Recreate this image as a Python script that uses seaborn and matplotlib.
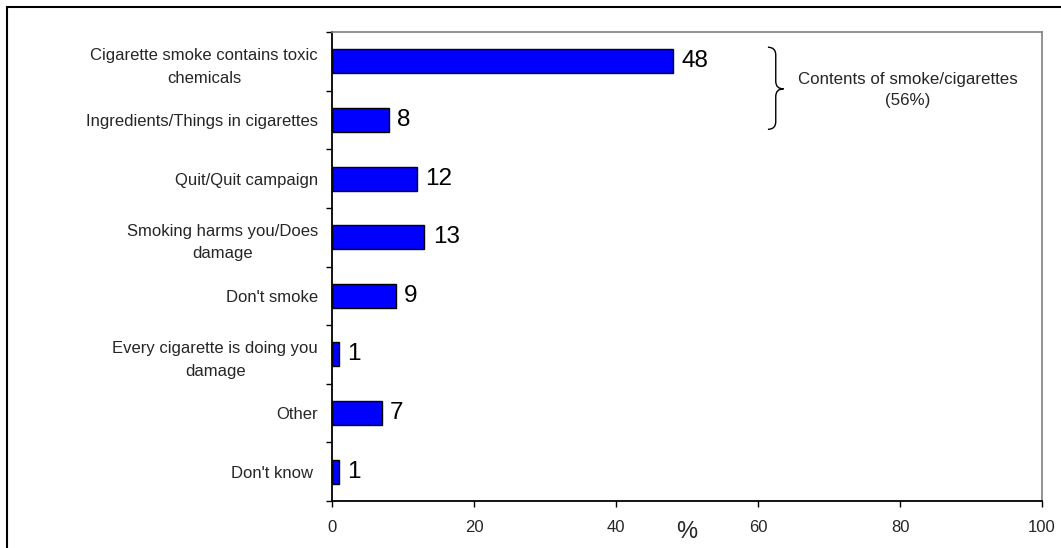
import matplotlib
matplotlib.use("Agg")
import matplotlib.pyplot as plt
import seaborn as sns
import pandas as pd
from matplotlib.path import Path
from matplotlib.patches import PathPatch, Rectangle
from matplotlib.ticker import FixedLocator

categories = [
    "Cigarette smoke contains toxic\nchemicals",
    "Ingredients/Things in cigarettes",
    "Quit/Quit campaign",
    "Smoking harms you/Does\ndamage",
    "Don't smoke",
    "Every cigarette is doing you\ndamage",
    "Other",
    "Don't know ",
]
values = [48, 8, 12, 13, 9, 1, 7, 1]
x_ticks = [0, 20, 40, 60, 80, 100]
group_label = "Contents of smoke/cigarettes\n(56%)"

sns.set_theme(style="white")
plt.rcParams["font.family"] = ["Liberation Sans", "DejaVu Sans"]

df = pd.DataFrame({"category": categories, "value": values})

fig = plt.figure(figsize=(10.61, 5.48), dpi=100)
ax = fig.add_axes([332 / 1061, 47 / 548, 710 / 1061, 469 / 548])

sns.barplot(data=df, y="category", x="value", orient="h", ax=ax,
            color="#0000FF", saturation=1, width=0.41,
            edgecolor="black", linewidth=1)

ax.set_xlim(0, 100)
ax.set_ylim(len(categories) - 0.5, -0.5)
ax.xaxis.set_major_locator(FixedLocator(x_ticks))
ax.set_xticklabels([str(t) for t in x_ticks], fontsize=12)

# y labels at centres, tick marks at category boundaries
ax.set_yticks(range(len(categories)))
ax.set_yticklabels(categories, fontsize=12, multialignment="center")
ax.yaxis.set_minor_locator(FixedLocator([i - 0.5 for i in range(len(categories) + 1)]))
ax.tick_params(axis="y", which="major", length=0, pad=10)
ax.tick_params(axis="y", which="minor", length=4, width=1, color="black", left=True)
ax.tick_params(axis="x", which="major", length=4, width=1, color="black", bottom=True, pad=10)
for lbl in ax.get_yticklabels():
    lbl.set_linespacing(1.65)

ax.set_ylabel("")
ax.set_xlabel("%", fontsize=17)
ax.xaxis.set_label_coords(0.5, -0.066)
ax.xaxis.label.set_va("center")

for s in ["left", "bottom"]:
    ax.spines[s].set_color("black")
    ax.spines[s].set_linewidth(1.3)
for s in ["top", "right"]:
    ax.spines[s].set_color("#808080")
    ax.spines[s].set_linewidth(1.2)

ax.bar_label(ax.containers[0], labels=[str(v) for v in values],
             padding=6, fontsize=17.5, color="black")

# curly brace grouping first two categories
xl, xm, xt = 61.4, 62.5, 63.6
yt, ym, yb, r = -0.24, 0.47, 1.16, 0.13
verts = [(xl, yt), (xm, yt), (xm, yt + r), (xm, ym - r), (xm, ym), (xt, ym),
         (xt, ym), (xm, ym), (xm, ym + r), (xm, yb - r), (xm, yb), (xl, yb)]
codes = [Path.MOVETO, Path.CURVE3, Path.CURVE3, Path.LINETO, Path.CURVE3, Path.CURVE3,
         Path.MOVETO, Path.CURVE3, Path.CURVE3, Path.LINETO, Path.CURVE3, Path.CURVE3]
ax.add_patch(PathPatch(Path(verts, codes), facecolor="none", edgecolor="black",
                       linewidth=1, clip_on=False))
ax.text(81.1, 0.49, group_label, ha="center", va="center", multialignment="center",
        fontsize=12.2, linespacing=1.45)

# outer chart frame (left and top edges visible)
fig.patches.append(Rectangle((7 / 1061, -0.5), 2, (548 - 7) / 548 + 0.5,
                             transform=fig.transFigure, fill=False,
                             edgecolor="black", linewidth=1.5, zorder=0))

fig.savefig("out.png", dpi=100)
